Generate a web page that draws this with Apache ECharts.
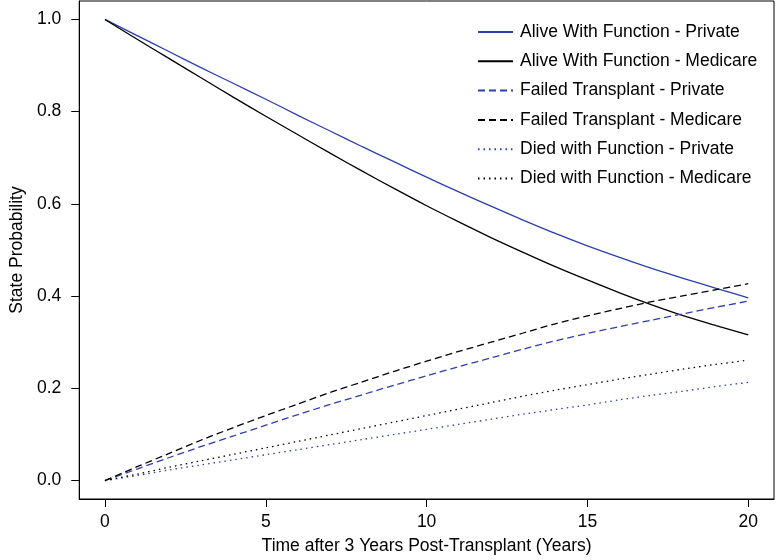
<!DOCTYPE html>
<html>
<head>
<meta charset="utf-8">
<script src="https://cdn.jsdelivr.net/npm/echarts@6/dist/echarts.min.js"></script>
<style>html,body{margin:0;padding:0;background:#fff;}#c{width:776px;height:560px;}</style>
</head>
<body>
<div id="c"></div>
<script>
const years = [0,1,2,3,4,5,6,7,8,9,10,11,12,13,14,15,16,17,18,19,20];
const alivePrivate  = [1.000,0.965,0.930,0.895,0.861,0.827,0.792,0.758,0.724,0.691,0.658,0.626,0.595,0.565,0.536,0.509,0.484,0.460,0.438,0.417,0.396];
const aliveMedicare = [1.000,0.957,0.915,0.873,0.831,0.790,0.750,0.710,0.671,0.633,0.596,0.561,0.527,0.495,0.464,0.435,0.407,0.381,0.357,0.336,0.316];
const failedPrivate = [0.000,0.025,0.050,0.074,0.097,0.120,0.143,0.165,0.186,0.207,0.227,0.247,0.266,0.285,0.303,0.319,0.334,0.348,0.362,0.376,0.389];
const failedMedicare= [0.000,0.030,0.059,0.088,0.115,0.141,0.166,0.191,0.214,0.237,0.259,0.280,0.300,0.320,0.340,0.357,0.373,0.388,0.401,0.414,0.427];
const diedPrivate   = [0.000,0.011,0.023,0.034,0.045,0.056,0.067,0.078,0.089,0.100,0.111,0.122,0.133,0.144,0.154,0.164,0.175,0.185,0.194,0.204,0.213];
const diedMedicare  = [0.000,0.014,0.029,0.043,0.057,0.071,0.085,0.099,0.113,0.127,0.141,0.155,0.169,0.183,0.196,0.208,0.220,0.231,0.242,0.252,0.261];
const xTicks = [0,5,10,15,20];
const yTicks = [0,0.2,0.4,0.6,0.8,1.0];
const seriesNames = ['Alive With Function - Private','Alive With Function - Medicare','Failed Transplant - Private','Failed Transplant - Medicare','Died with Function - Private','Died with Function - Medicare'];

const BLUE = '#2c3fae';
const FONT = 'Liberation Sans, Arial, Helvetica, sans-serif';
const FS = 17.5;
const styles = [
  {color: BLUE, type: 'solid'},
  {color: '#000', type: 'solid'},
  {color: BLUE, type: [7,4]},
  {color: '#000', type: [7,4]},
  {color: BLUE, type: [1.5,4]},
  {color: '#000', type: [1.5,4]}
];
const dataSets = [alivePrivate, aliveMedicare, failedPrivate, failedMedicare, diedPrivate, diedMedicare];

const chart = echarts.init(document.getElementById('c'), null, {renderer: 'canvas'});
chart.setOption({
  animation: false,
  backgroundColor: '#fff',
  textStyle: {fontFamily: FONT},
  grid: {left: 71, right: 2, top: 1, bottom: 59, show: true, borderColor: '#000', borderWidth: 1, containLabel: false},
  legend: {
    orient: 'vertical', left: 472, top: 17,
    itemWidth: 35, itemHeight: 14, itemGap: 9.3,
    itemStyle: {opacity: 0},
    textStyle: {fontSize: FS, fontFamily: FONT, color: '#000', lineHeight: 20, padding: [0,0,0,2]},
    data: seriesNames
  },
  xAxis: {
    type: 'value', min: -0.8, max: 20.8,
    name: 'Time after 3 Years Post-Transplant (Years)', nameLocation: 'middle', nameGap: 38,
    nameTextStyle: {fontSize: FS, color: '#000', fontFamily: FONT},
    axisLine: {show: true, onZero: false, lineStyle: {color: '#000', width: 1}},
    axisTick: {show: true, inside: false, length: 8, lineStyle: {color: '#000'}, customValues: xTicks},
    axisLabel: {fontSize: FS, color: '#000', margin: 14, customValues: xTicks, formatter: v => String(v)},
    splitLine: {show: false}
  },
  yAxis: {
    type: 'value', min: -0.04, max: 1.04,
    name: 'State Probability', nameLocation: 'middle', nameGap: 52,
    nameTextStyle: {fontSize: FS, color: '#000', fontFamily: FONT},
    axisLine: {show: true, onZero: false, lineStyle: {color: '#000', width: 1}},
    axisTick: {show: true, inside: false, length: 8, lineStyle: {color: '#000'}, customValues: yTicks},
    axisLabel: {fontSize: FS, color: '#000', margin: 18, customValues: yTicks, formatter: v => v.toFixed(1)},
    splitLine: {show: false}
  },
  series: dataSets.map((arr, i) => ({
    name: seriesNames[i],
    type: 'line',
    symbol: 'none',
    smooth: 0.3,
    color: styles[i].color,
    lineStyle: {color: styles[i].color, width: 1.3, type: styles[i].type},
    data: years.map((t, k) => [t, arr[k]])
  }))
});
</script>
</body>
</html>
